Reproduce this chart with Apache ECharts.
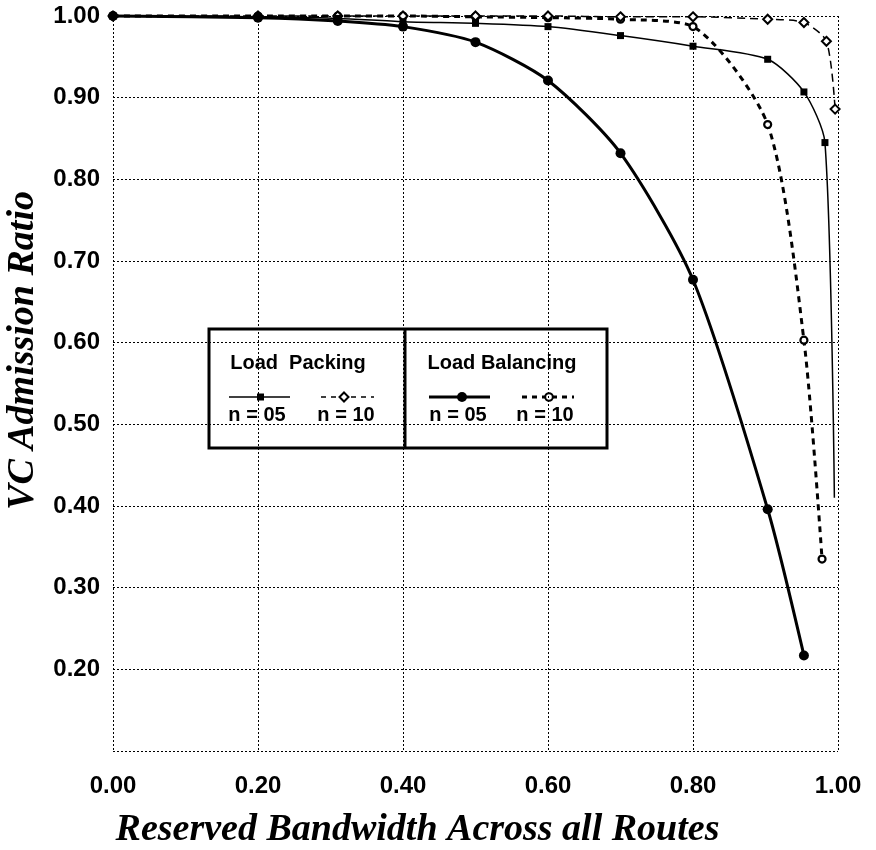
<!DOCTYPE html>
<html>
<head>
<meta charset="utf-8">
<script src="https://cdn.jsdelivr.net/npm/echarts@6/dist/echarts.min.js"></script>
<style>
  html, body { margin: 0; padding: 0; background: #fff; }
  #chart { width: 876px; height: 850px; }
</style>
</head>
<body>
<div id="chart"></div>
<script>
// 轴刻度
let xTickLabels = ["0.00", "0.20", "0.40", "0.60", "0.80", "1.00"];
let yTickLabels = ["", "0.20", "0.30", "0.40", "0.50", "0.60", "0.70", "0.80", "0.90", "1.00"];

// Load Packing, n = 05
let lpN05X = [0, 0.2, 0.31, 0.4, 0.5, 0.6, 0.7, 0.8, 0.903, 0.953, 0.982, 0.995];
let lpN05Y = [1.0, 0.999, 0.997, 0.993, 0.991, 0.987, 0.976, 0.963, 0.947, 0.907, 0.845, 0.41];

// Load Packing, n = 10
let lpN10X = [0, 0.2, 0.31, 0.4, 0.5, 0.6, 0.7, 0.8, 0.903, 0.953, 0.984, 0.996];
let lpN10Y = [1.0, 1.0, 1.0, 1.0, 1.0, 1.0, 0.999, 0.999, 0.996, 0.992, 0.969, 0.886];

// Load Balancing, n = 05
let lbN05X = [0, 0.2, 0.31, 0.4, 0.5, 0.6, 0.7, 0.8, 0.903, 0.953];
let lbN05Y = [1.0, 0.998, 0.994, 0.987, 0.968, 0.921, 0.832, 0.677, 0.396, 0.217];

// Load Balancing, n = 10
let lbN10X = [0, 0.2, 0.31, 0.4, 0.5, 0.6, 0.7, 0.8, 0.903, 0.953, 0.978];
let lbN10Y = [1.0, 1.0, 1.0, 1.0, 0.999, 0.998, 0.996, 0.987, 0.867, 0.603, 0.335];

let pairs = (xs, ys) => xs.map((x, i) => [x, ys[i]]);

let sans = "'Liberation Sans', Arial, sans-serif";
let serif = "'Liberation Serif', 'Times New Roman', serif";
let dotted = { color: "#000", width: 1, type: [2, 2] };
let smooth = 0.25;

// 最后一个点没有标记
let lpN05Data = pairs(lpN05X, lpN05Y).map((p, i, arr) =>
    i == arr.length - 1 ? { value: p, symbol: "none" } : p);

let chart = echarts.init(document.getElementById("chart"), null, { renderer: "canvas" });

let titleStyle = { fontFamily: serif, fontWeight: "bold", fontStyle: "italic", fontSize: 38, color: "#000" };

let option = {
    backgroundColor: "#fff",
    animation: false,
    grid: { left: 113, right: 38, top: 16, bottom: 99, outerBoundsMode: "none" },
    xAxis: {
        type: "value", min: 0, max: 1, interval: 0.2,
        name: "Reserved Bandwidth Across all Routes",
        nameLocation: "middle", nameGap: 60,
        nameTextStyle: Object.assign({ padding: [0, 116, 0, 0] }, titleStyle),
        axisLine: { show: false }, axisTick: { show: false },
        axisLabel: {
            margin: 23, color: "#000", fontFamily: sans, fontWeight: "bold", fontSize: 24,
            formatter: (v, i) => xTickLabels[i]
        },
        splitLine: { show: true, lineStyle: dotted }
    },
    yAxis: {
        type: "value", min: 0.1, max: 1.0, interval: 0.1,
        name: "VC Admission Ratio",
        nameLocation: "middle", nameGap: 58,
        nameTextStyle: Object.assign({ padding: [0, 0, 0, 66] }, titleStyle),
        axisLine: { show: false }, axisTick: { show: false },
        axisLabel: {
            margin: 13, color: "#000", fontFamily: sans, fontWeight: "bold", fontSize: 24,
            formatter: (v, i) => yTickLabels[i]
        },
        splitLine: { show: true, lineStyle: dotted }
    },
    series: [
        {
            name: "LB n=10", type: "line", clip: false,
            data: pairs(lbN10X, lbN10Y), smooth: smooth,
            symbol: "circle", symbolSize: 7,
            itemStyle: { color: "#fff", borderColor: "#000", borderWidth: 2.2 },
            lineStyle: { color: "#000", width: 3, type: [6, 5] }
        },
        {
            name: "LP n=10", type: "line", clip: false,
            data: pairs(lpN10X, lpN10Y), smooth: smooth,
            symbol: "diamond", symbolSize: 9,
            itemStyle: { color: "#fff", borderColor: "#000", borderWidth: 2 },
            lineStyle: { color: "#000", width: 1.5, type: [8, 5] }
        },
        {
            name: "LP n=05", type: "line", clip: false,
            data: lpN05Data, smooth: smooth,
            symbol: "rect", symbolSize: 7,
            itemStyle: { color: "#000" },
            lineStyle: { color: "#000", width: 1.5 }
        },
        {
            name: "LB n=05", type: "line", clip: false,
            data: pairs(lbN05X, lbN05Y), smooth: smooth,
            symbol: "circle", symbolSize: 10,
            itemStyle: { color: "#000" },
            lineStyle: { color: "#000", width: 3 }
        }
    ],
    graphic: [
        {
            type: "group", z: 100,
            children: [
                { type: "rect", shape: { x: 209, y: 329, width: 398, height: 119 },
                  style: { fill: "#fff", stroke: "#000", lineWidth: 3 } },
                { type: "line", shape: { x1: 405, y1: 329, x2: 405, y2: 448 },
                  style: { stroke: "#000", lineWidth: 3 } },
                { type: "text", x: 298, y: 363,
                  style: { text: "Load  Packing", font: "bold 20px " + sans, fill: "#000", align: "center", verticalAlign: "middle" } },
                { type: "text", x: 502, y: 363,
                  style: { text: "Load Balancing", font: "bold 20px " + sans, fill: "#000", align: "center", verticalAlign: "middle" } },
                // LP n=05
                { type: "line", shape: { x1: 229, y1: 397, x2: 290, y2: 397 }, style: { stroke: "#000", lineWidth: 1.5 } },
                { type: "rect", shape: { x: 257, y: 393.5, width: 7, height: 7 }, style: { fill: "#000" } },
                // LP n=10
                { type: "line", shape: { x1: 321, y1: 397, x2: 374, y2: 397 }, style: { stroke: "#000", lineWidth: 1.5, lineDash: [5, 5] } },
                { type: "polygon", shape: { points: [[344, 392.5], [348.5, 397], [344, 401.5], [339.5, 397]] },
                  style: { fill: "#fff", stroke: "#000", lineWidth: 2 } },
                // LB n=05
                { type: "line", shape: { x1: 429, y1: 397, x2: 490, y2: 397 }, style: { stroke: "#000", lineWidth: 3 } },
                { type: "circle", shape: { cx: 462, cy: 397, r: 5 }, style: { fill: "#000" } },
                // LB n=10
                { type: "line", shape: { x1: 522, y1: 397, x2: 574, y2: 397 }, style: { stroke: "#000", lineWidth: 3, lineDash: [5, 5] } },
                { type: "circle", shape: { cx: 549, cy: 397, r: 3.8 }, style: { fill: "#fff", stroke: "#000", lineWidth: 2 } },
                { type: "text", x: 257, y: 415,
                  style: { text: "n = 05", font: "bold 20px " + sans, fill: "#000", align: "center", verticalAlign: "middle" } },
                { type: "text", x: 346, y: 415,
                  style: { text: "n = 10", font: "bold 20px " + sans, fill: "#000", align: "center", verticalAlign: "middle" } },
                { type: "text", x: 458, y: 415,
                  style: { text: "n = 05", font: "bold 20px " + sans, fill: "#000", align: "center", verticalAlign: "middle" } },
                { type: "text", x: 545, y: 415,
                  style: { text: "n = 10", font: "bold 20px " + sans, fill: "#000", align: "center", verticalAlign: "middle" } }
            ]
        }
    ]
};

chart.setOption(option);
</script>
</body>
</html>
